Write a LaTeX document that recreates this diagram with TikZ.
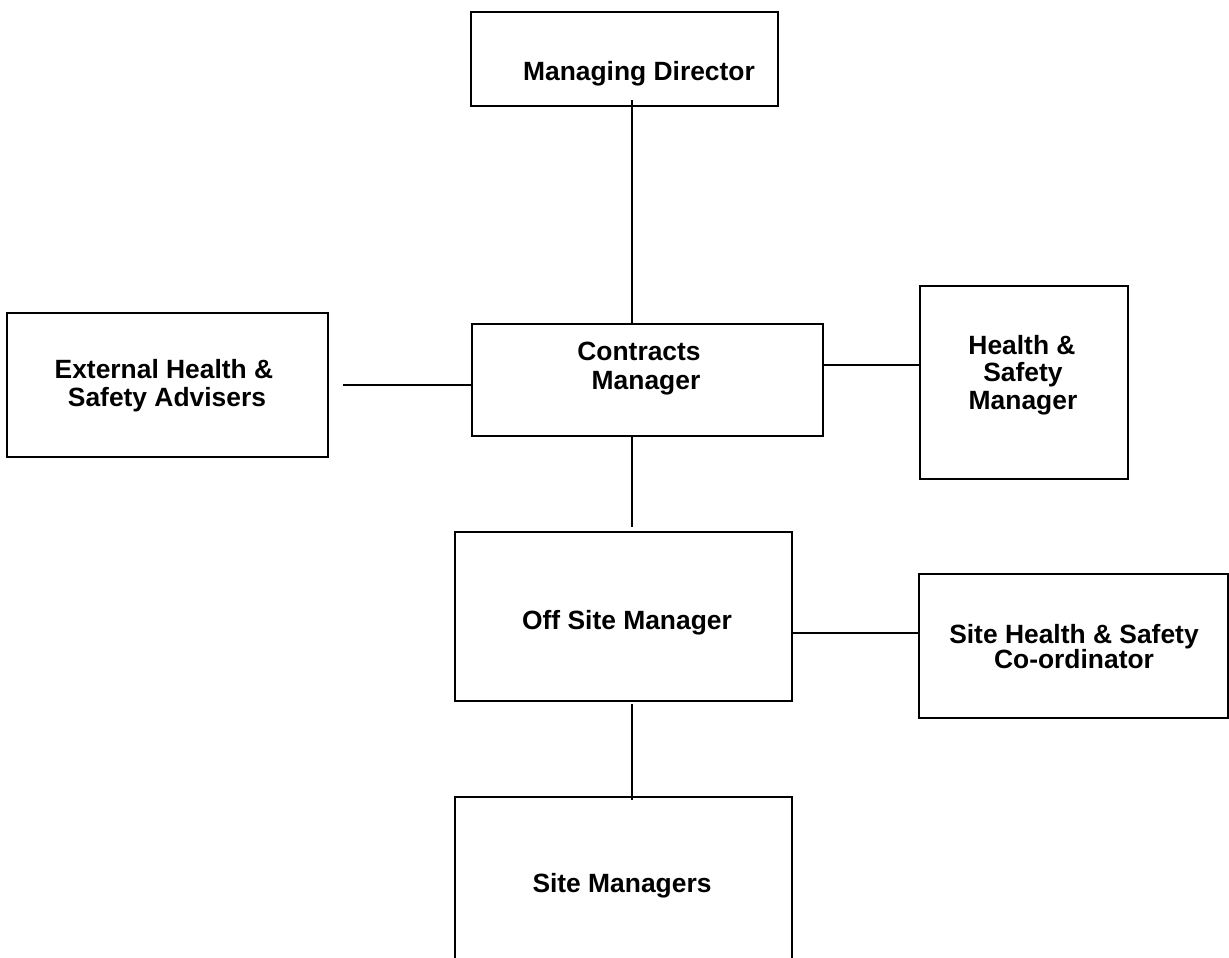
\documentclass[tikz,border=0pt]{standalone}
\usepackage{fontspec}
\setmainfont{Liberation Sans}
\usetikzlibrary{fit}
\begin{document}
\begin{tikzpicture}[x=1bp,y=-1bp,
  box/.style={draw=black, line width=1.8bp, inner sep=0pt, fill=none},
  conn/.style={draw=black, line width=1.5bp},
  lbl/.style={anchor=base, inner sep=0pt, font=\fontsize{26.5}{29}\selectfont\bfseries}]
\useasboundingbox (0,0) rectangle (1229,958);
% boxes
\node[box, fit={(471,12) (778,106)}] (md) {};
\node[box, fit={(472,324) (823,436)}] (cm) {};
\node[box, fit={(7,313) (328,457)}] (ext) {};
\node[box, fit={(920,286) (1128,479)}] (hs) {};
\node[box, fit={(455,532) (792,701)}] (os) {};
\node[box, fit={(919,574) (1228,718)}] (shs) {};
\node[box, fit={(455,797) (792,962)}] (sm) {};
% labels
\node[lbl] (mdt) at (639,80) {Managing Director};
\node[lbl] (cmt1) at (639,360) {Contracts};
\node[lbl] (cmt2) at (646,389) {Manager};
\node[lbl] (ext1) at (164,378) {External Health \&};
\node[lbl] (ext2) at (167,406) {Safety Advisers};
\node[lbl] (hs1) at (1022,354) {Health \&};
\node[lbl] (hs2) at (1023,381) {Safety};
\node[lbl] (hs3) at (1023,409) {Manager};
\node[lbl] (ost) at (627,629) {Off Site Manager};
\node[lbl] (shs1) at (1074,643) {Site Health \& Safety};
\node[lbl] (shs2) at (1074,668) {Co-ordinator};
\node[lbl] (smt) at (622,892) {Site Managers};
% connector ends
\coordinate (a1) at (632,100);
\coordinate (a2) at (632,324);
\coordinate (b1) at (343,385);
\coordinate (b2) at (472,385);
\coordinate (c1) at (823,365);
\coordinate (c2) at (920,365);
\coordinate (d1) at (632,437);
\coordinate (d2) at (632,527);
\coordinate (e1) at (792,633);
\coordinate (e2) at (919,633);
\coordinate (f1) at (632,704);
\coordinate (f2) at (632,800);
\draw[conn] (a1) -- (a2);
\draw[conn] (b1) -- (b2);
\draw[conn] (c1) -- (c2);
\draw[conn] (d1) -- (d2);
\draw[conn] (e1) -- (e2);
\draw[conn] (f1) -- (f2);
\end{tikzpicture}
\end{document}
